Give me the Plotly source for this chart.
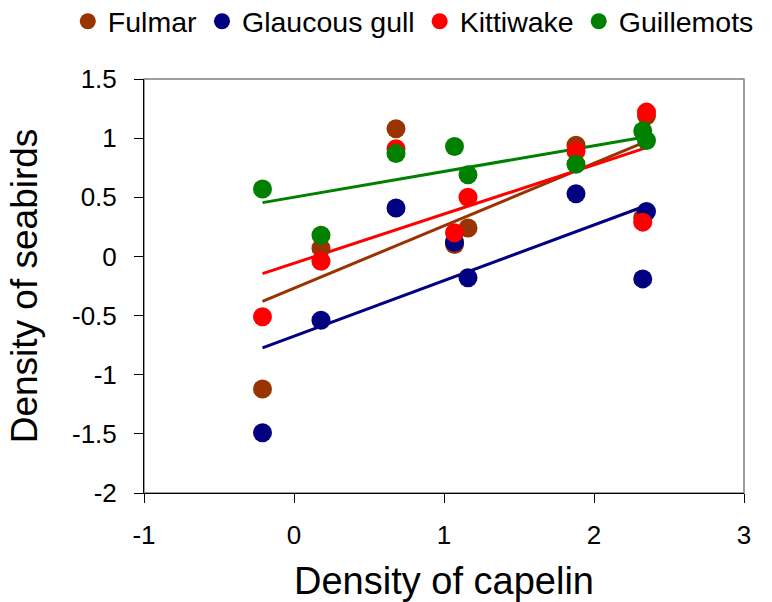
import numpy as np
import plotly.graph_objects as go

# Density of capelin (x) – shared by all species
capelin = [-0.21, 0.18, 0.68, 1.07, 1.16, 1.88, 2.325, 2.35]

# Density of seabirds (y) per species
species = ["Fulmar", "Glaucous gull", "Kittiwake", "Guillemots"]
fulmar = [-1.12, 0.07, 1.08, 0.10, 0.24, 0.94, 0.33, 1.19]
glaucous = [-1.49, -0.54, 0.41, 0.12, -0.18, 0.53, -0.19, 0.38]
kittiwake = [-0.51, -0.04, 0.91, 0.20, 0.50, 0.89, 0.29, 1.22]
guillemots = [0.57, 0.18, 0.87, 0.93, 0.69, 0.78, 1.06, 0.98]

colors = ["#993300", "#000080", "#FF0000", "#008000"]
series = [fulmar, glaucous, kittiwake, guillemots]

x_ticks = [-1, 0, 1, 2, 3]
x_ticklabels = ["-1", "0", "1", "2", "3"]
y_ticks = [-2, -1.5, -1, -0.5, 0, 0.5, 1, 1.5]
y_ticklabels = ["-2", "-1.5", "-1", "-0.5", "0", "0.5", "1", "1.5"]

FONT = "Liberation Sans, Arial, sans-serif"

fig = go.Figure()

# Linear trend lines (least squares fit of each series)
xa = np.array(capelin)
xl = np.array([xa.min(), xa.max()])
for ys, c in zip(series, colors):
    k, b = np.polyfit(xa, np.array(ys), 1)
    fig.add_trace(go.Scatter(x=xl, y=k * xl + b, mode="lines",
                             line=dict(color=c, width=3),
                             showlegend=False, hoverinfo="skip"))

for name, ys, c in zip(species, series, colors):
    fig.add_trace(go.Scatter(x=capelin, y=ys, mode="markers", name=name,
                             marker=dict(color=c, size=19, line=dict(width=0))))

axis_common = dict(
    showgrid=False, zeroline=False, showline=True, linecolor="black",
    linewidth=1, ticks="outside", ticklen=9, tickcolor="black",
    tickfont=dict(family=FONT, size=26, color="black"),
)

fig.update_xaxes(range=[-1, 3], tickvals=x_ticks, ticktext=x_ticklabels,
                 ticklabelstandoff=10,
                 title=dict(text="Density of capelin",
                            font=dict(family=FONT, size=38, color="black"),
                            standoff=18),
                 **axis_common)
fig.update_yaxes(range=[-2, 1.5], tickvals=y_ticks, ticktext=y_ticklabels,
                 ticklabelstandoff=12,
                 title=dict(text="Density of seabirds",
                            font=dict(family=FONT, size=37, color="black"),
                            standoff=23),
                 **axis_common)

fig.add_shape(type="rect", xref="paper", yref="paper", x0=0, y0=0, x1=1, y1=1,
              line=dict(color="#7f7f7f", width=1.5), layer="below")

fig.update_layout(
    width=772, height=602,
    margin=dict(l=144, r=28, t=79, b=109, autoexpand=False),
    paper_bgcolor="white", plot_bgcolor="white",
    font=dict(family=FONT, color="black"),
    legend=dict(orientation="h", xref="paper", yref="paper",
                x=-0.127, y=1.2, xanchor="left", yanchor="top",
                font=dict(family=FONT, size=28.5, color="black"),
                tracegroupgap=0, bgcolor="rgba(0,0,0,0)"),
)

fig.write_html("out.html")
